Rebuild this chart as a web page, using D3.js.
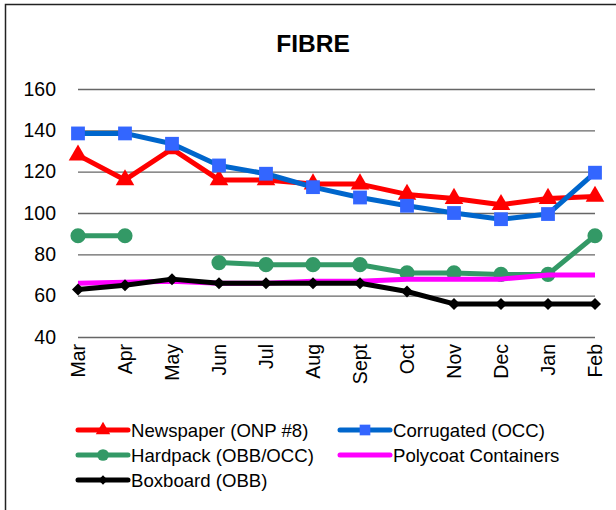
<!DOCTYPE html>
<html><head><meta charset="utf-8">
<script src="https://cdn.jsdelivr.net/npm/d3@7"></script>
<style>body{margin:0;background:#fff}svg{display:block;font-family:"Liberation Sans",Arial,sans-serif}</style>
</head><body><svg id="c" width="616" height="510"></svg>
<script>
const months = ["Mar","Apr","May","Jun","Jul","Aug","Sept","Oct","Nov","Dec","Jan","Feb"];
const yTicks = [40,60,80,100,120,140,160];
const newspaper = [128,116,131,116,116,114,114,109,107,104,107,108];
const corrugated = [138.5,138.5,133.5,123,119,112.5,107.5,103.5,100,97,99.5,119.5];
const hardpack = [89,89,null,76,75,75,75,71,71,70.3,70.3,89];
const polycoat = [66,66.5,67,66,66,67,67,68,68,68,70,70];
const boxboard = [63,65,68,66,66,66,66,62,56,56,56,56];

const series = [
  {name:"Newspaper (ONP #8)", values:newspaper, line:"#ff0000", mark:"#ff0000", sym:d3.symbolTriangle, size:150, rot:0},
  {name:"Corrugated (OCC)", values:corrugated, line:"#0066cc", mark:"#3366ff", sym:d3.symbolSquare, size:190, rot:0},
  {name:"Hardpack (OBB/OCC)", values:hardpack, line:"#339966", mark:"#339966", sym:d3.symbolCircle, size:180, rot:0},
  {name:"Polycoat Containers", values:polycoat, line:"#ff00ff", mark:null},
  {name:"Boxboard (OBB)", values:boxboard, line:"#000000", mark:"#000000", sym:d3.symbolSquare, size:72, rot:45}
];

const svg = d3.select("#c");
svg.append("rect").attr("x",5.5).attr("y",4.5).attr("width",700).attr("height",700)
  .attr("fill","none").attr("stroke","#222").attr("stroke-width",1.5);

svg.append("text").attr("x",313).attr("y",52).attr("text-anchor","middle")
  .attr("font-size",24.5).attr("font-weight","bold").text("FIBRE");

const x = d3.scalePoint().domain(months).range([78,595]);
const y = d3.scaleLinear().domain([40,160]).range([337,89]);

const yAxis = svg.append("g").attr("transform","translate(78,0)")
  .call(d3.axisLeft(y).tickValues(yTicks).tickSize(-517).tickPadding(22));
yAxis.select(".domain").remove();
yAxis.selectAll("line").attr("stroke","#666").attr("stroke-width",1.3);
yAxis.selectAll("text").attr("font-size",19.5).attr("fill","#000").attr("font-family","Liberation Sans, Arial, sans-serif");

const xAxis = svg.append("g").attr("transform","translate(0,337)")
  .call(d3.axisBottom(x).tickSize(0).tickPadding(0));
xAxis.select(".domain").remove();
xAxis.selectAll("text").attr("font-size",19.5).attr("fill","#000")
  .attr("font-family","Liberation Sans, Arial, sans-serif")
  .attr("text-anchor","end").attr("dy","0.35em")
  .attr("transform","translate(0,7) rotate(-90)");

const line = d3.line().defined(d=>d!=null).x((d,i)=>x(months[i])).y(d=>y(d));
const g = svg.append("g");
series.forEach(s=>{
  g.append("path").attr("d",line(s.values)).attr("fill","none")
    .attr("stroke",s.line).attr("stroke-width",5).attr("stroke-linejoin","round");
  if(s.mark){
    s.values.forEach((v,i)=>{
      if(v==null) return;
      g.append("path").attr("d",d3.symbol(s.sym,s.size)())
        .attr("transform",`translate(${x(months[i])},${y(v)}) rotate(${s.rot})`).attr("fill",s.mark);
    });
  }
});

// legend
const legPos = [[78,430],[340,430],[78,455],[340,455],[78,480]];
series.forEach((s,i)=>{
  const [lx,ly] = legPos[i];
  const lg = svg.append("g").attr("transform",`translate(${lx},${ly})`);
  lg.append("line").attr("x1",0).attr("x2",50).attr("stroke",s.line).attr("stroke-width",5).attr("stroke-linecap","round");
  if(s.mark) lg.append("path").attr("d",d3.symbol(s.sym,s.size*0.6)()).attr("transform",`translate(25,0) rotate(${s.rot})`).attr("fill",s.mark);
  lg.append("text").attr("x",53).attr("y",0).attr("dy","0.35em").attr("font-size",18.6).text(s.name);
});
</script></body></html>
